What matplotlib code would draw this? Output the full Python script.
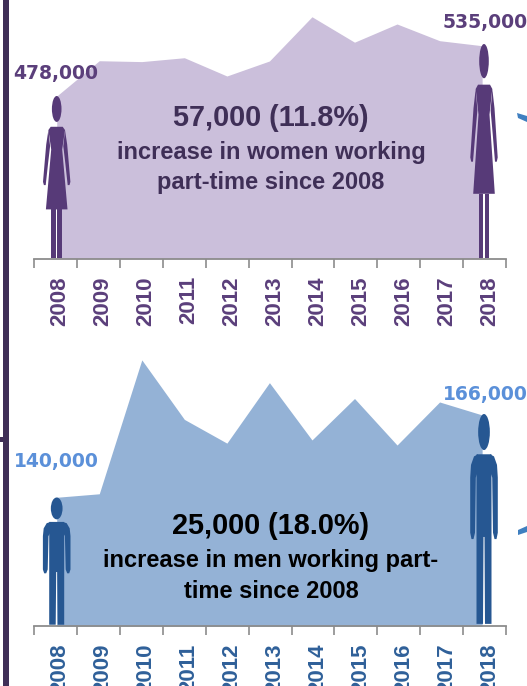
import matplotlib
matplotlib.use('Agg')
import matplotlib.pyplot as plt
from matplotlib.patches import Ellipse, Polygon, Rectangle

#datos
years = ['2008','2009','2010','2011','2012','2013','2014','2015','2016','2017','2018']
women = [478000,518000,517000,521400,500700,517700,567800,539000,559600,540700,535000]
men = [140000,141100,183400,164600,157100,176200,158100,171200,156500,170100,166000]

W = 527
H = 686

def person(ax, cx, top, bottom, color, kind):
    h = bottom - top
    def pts(lst):
        return [(cx + d, top + f*h) for d, f in lst]
    if kind == 'w':
        ax.add_patch(Ellipse((cx, top + 0.08*h), 9.6, 0.16*h, color=color, lw=0))
        ax.add_patch(Polygon(pts([(-6,.19),(6,.19),(8.3,.21),(5.5,.33),(10.8,.70),(-10.8,.70),(-5.5,.33),(-8.3,.21)]), color=color, lw=0))
        for s in [-1, 1]:
            ax.add_patch(Polygon(pts([(s*8.3,.21),(s*10.5,.30),(s*13.7,.53),(s*12.8,.55),(s*11,.55),(s*8.7,.42),(s*6.6,.31)]), color=color, lw=0))
        ax.add_patch(Rectangle((cx - 5.5, top + .70*h), 4.5, .30*h, color=color, lw=0))
        ax.add_patch(Rectangle((cx + 0.6, top + .70*h), 4.7, .30*h, color=color, lw=0))
    else:
        ax.add_patch(Ellipse((cx, top + 0.085*h), 11.7, 0.17*h, color=color, lw=0))
        ax.add_patch(Polygon(pts([(-7.5,.19),(7.5,.19),(7.5,.99),(1,.99),(.5,.58),(-.5,.58),(-1,.99),(-7.5,.99)]), color=color, lw=0))
        for s in [-1, 1]:
            ax.add_patch(Polygon(pts([(s*6,.19),(s*10,.20),(s*13,.24),(s*13.8,.30),(s*13.8,.56),(s*12.5,.59),(s*10.5,.59),(s*9,.56),(s*8.2,.30),(s*6,.27)]), color=color, lw=0))

def area(y0_px, y1_px, ylim, vals, fill, tick_color, font_size):
    ax = fig.add_axes([34.3/W, (H - y1_px)/H, (506 - 34.3)/W, (y1_px - y0_px)/H])
    x = list(range(len(vals)))
    ax.fill_between(x, vals, ylim[0], color=fill, lw=0)
    ax.set_xlim(-0.527, 10.56)
    ax.set_ylim(ylim)
    ax.patch.set_alpha(0)
    for s in ['top', 'left', 'right']:
        ax.spines[s].set_visible(False)
    ax.spines['bottom'].set_color('#8c8c8c')
    ax.spines['bottom'].set_linewidth(1.3)
    ax.set_yticks([])
    # las etiquetas van un poco corridas respecto a los puntos
    ax.set_xticks([0.06 + 1.0118*i for i in x])
    ax.set_xticklabels(years, rotation=90, fontsize=font_size, fontweight='bold',
                       fontfamily='Liberation Sans', color=tick_color)
    ax.tick_params(axis='x', which='major', length=0, pad=12.5)
    ax.set_xticks([-0.527 + 1.008*i for i in range(len(vals) + 1)], minor=True)
    ax.tick_params(axis='x', which='minor', length=6.5, width=1.2, color='#8c8c8c')
    return ax

fig = plt.figure(figsize=(W/100, H/100), dpi=100, facecolor='white')

ax1 = area(0, 258.7, (293700, 586800), women, '#cbbfdb', '#5b3f7b', 16)
ax2 = area(345, 626.3, (99240, 188100), men, '#94b2d6', '#2f6099', 16)

lab = dict(fontsize=13.5, fontweight='bold', ha='center', va='center', annotation_clip=False,
           xycoords='data', textcoords='offset pixels')
ax1.annotate('478,000', (0, women[0]), xytext=(-1, 23), color='#5b3f7b', **lab)
ax1.annotate('535,000', (10, women[-1]), xytext=(3, 23), color='#5b3f7b', **lab)
ax2.annotate('140,000', (0, men[0]), xytext=(-0.5, 36), color='#5b90d9', **lab)
ax2.annotate('166,000', (10, men[-1]), xytext=(3, 20), color='#5b90d9', **lab)

# capa en pixeles para siluetas y textos
ov = fig.add_axes([0, 0, 1, 1])
ov.set_xlim(0, W)
ov.set_ylim(H, 0)
ov.axis('off')
ov.patch.set_alpha(0)

ov.add_patch(Rectangle((3, 0), 6, H, color='#3f2f57', lw=0))
ov.add_patch(Rectangle((0, 437), 9, 5, color='#3f2f57', lw=0))
ov.add_patch(Polygon([(517,113),(527,116),(527,122),(518,118)], color='#3f7fc0', lw=0))
ov.add_patch(Polygon([(518,530),(527,526),(527,532),(518,535)], color='#3f7fc0', lw=0))

person(ov, 56.7, 96, 258, '#573a78', 'w')
person(ov, 484, 44, 258, '#573a78', 'w')
person(ov, 56.7, 497.5, 626, '#265792', 'm')
person(ov, 484, 414, 626, '#265792', 'm')

big = dict(fontsize=20.8, fontweight='bold', fontfamily='Liberation Sans', ha='center', va='center')
sub = dict(fontsize=17, fontweight='bold', fontfamily='Liberation Sans', ha='center', va='center')
ov.text(271, 117.5, '57,000 (11.8%)', color='#3f2f57', **big)
ov.text(271, 152.5, 'increase in women working', color='#3f2f57', **sub)
ov.text(271, 182.5, 'part-time since 2008', color='#3f2f57', **sub)
ov.text(271, 525.5, '25,000 (18.0%)', color='black', **big)
ov.text(271, 560.5, 'increase in men working part-', color='black', **sub)
ov.text(271, 591, 'time since 2008', color='black', **sub)

fig.savefig('out.png', dpi=100)
